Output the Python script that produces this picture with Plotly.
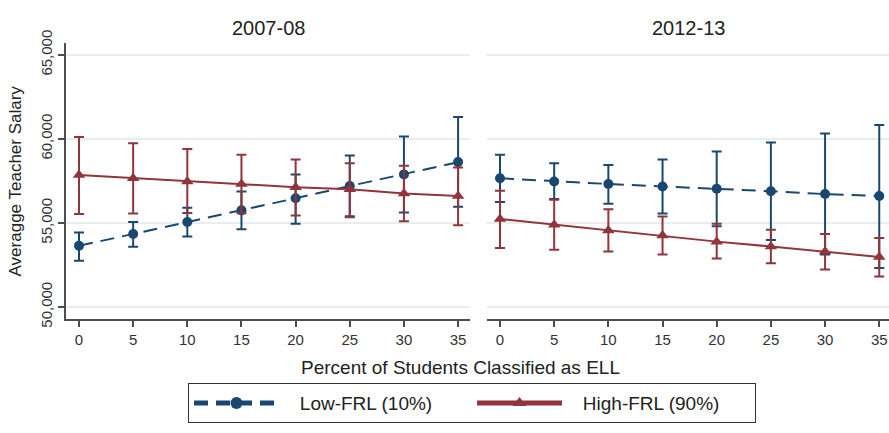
import plotly.graph_objects as go

# ELL share (percent of students)
ell_pct = [0, 5, 10, 15, 20, 25, 30, 35]

# 2007-08 predicted salary and 95% CI bounds
low_0708 = [53640, 54340, 55060, 55750, 56470, 57200, 57890, 58620]
low_0708_hi = [54430, 55060, 55900, 56870, 57890, 59010, 60150, 61300]
low_0708_lo = [52750, 53580, 54200, 54620, 54960, 55400, 55620, 55960]
high_0708 = [57850, 57660, 57470, 57320, 57130, 57000, 56750, 56600]
high_0708_hi = [60110, 59740, 59400, 59060, 58780, 58550, 58410, 58300]
high_0708_lo = [55530, 55570, 55600, 55580, 55440, 55340, 55100, 54870]

# 2012-13 predicted salary and 95% CI bounds
low_1213 = [57660, 57470, 57320, 57170, 57040, 56890, 56720, 56600]
low_1213_hi = [59060, 58550, 58450, 58780, 59250, 59790, 60320, 60830]
low_1213_lo = [56250, 56430, 56150, 55570, 54810, 53980, 53120, 52320]
high_1213 = [55240, 54900, 54550, 54250, 53890, 53600, 53300, 52980]
high_1213_hi = [56910, 56380, 55810, 55380, 54960, 54590, 54340, 54110]
high_1213_lo = [53510, 53410, 53300, 53130, 52890, 52610, 52230, 51820]

y_ticks = [50000, 55000, 60000, 65000]
y_tick_text = ["50,000", "55,000", "60,000", "65,000"]

series_names = ["Low-FRL (10%)", "High-FRL (90%)"]

BLUE = "#1a476f"
RED = "#90353b"
GRID = "#e6eef0"
AXIS = "#4d4d4d"
TEXT = "#222222"
FONT = "Liberation Sans, Arial, sans-serif"
PAD = "\u00a0" * 3  # gap between legend key and label

W, H = 889, 433


def err(center, hi, lo, color):
    return dict(
        type="data", symmetric=False,
        array=[h - c for h, c in zip(hi, center)],
        arrayminus=[c - l for c, l in zip(center, lo)],
        color=color, thickness=2, width=5,
    )


fig = go.Figure()

panels = [
    ("x", "y", low_0708, low_0708_hi, low_0708_lo, high_0708, high_0708_hi, high_0708_lo, True),
    ("x2", "y2", low_1213, low_1213_hi, low_1213_lo, high_1213, high_1213_hi, high_1213_lo, False),
]
for xa, ya, lo_c, lo_h, lo_l, hi_c, hi_h, hi_l, show in panels:
    fig.add_trace(go.Scatter(
        x=ell_pct, y=lo_c, xaxis=xa, yaxis=ya, mode="lines+markers",
        name=PAD + series_names[0], showlegend=show, legendrank=1,
        line=dict(color=BLUE, width=2, dash="14px,8px"),
        marker=dict(symbol="circle", size=10, color=BLUE),
        error_y=err(lo_c, lo_h, lo_l, BLUE),
    ))
    fig.add_trace(go.Scatter(
        x=ell_pct, y=hi_c, xaxis=xa, yaxis=ya, mode="lines+markers",
        name=PAD + series_names[1], showlegend=show, legendrank=2,
        line=dict(color=RED, width=2),
        marker=dict(symbol="triangle-up", size=11, color=RED),
        error_y=err(hi_c, hi_h, hi_l, RED),
    ))

y_dom = [1 - 322 / H, 1 - 32 / H]
y_rng = [49264, 65680]
x_style = dict(
    tickmode="array", tickvals=ell_pct, ticks="outside", ticklen=6,
    tickcolor=AXIS, tickwidth=1.5, showline=True, linecolor=AXIS, linewidth=2,
    showgrid=False, zeroline=False,
    tickfont=dict(family=FONT, size=15, color="#333333"),
)
fig.update_layout(
    width=W, height=H,
    margin=dict(l=0, r=0, t=0, b=0),
    paper_bgcolor="white", plot_bgcolor="white",
    font=dict(family=FONT),
    xaxis=dict(domain=[66 / W, 470 / W], range=[-1.2, 36.1], anchor="y", **x_style),
    xaxis2=dict(domain=[487 / W, 1.0], range=[-1.2, 35.9], anchor="y2", **x_style),
    yaxis=dict(
        domain=y_dom, range=y_rng, anchor="x",
        tickmode="array", tickvals=y_ticks, ticktext=y_tick_text, tickangle=-90,
        ticks="outside", ticklen=6, tickcolor=AXIS, tickwidth=1.5,
        showline=True, linecolor=AXIS, linewidth=2,
        showgrid=True, gridcolor=GRID, gridwidth=2, zeroline=False,
        tickfont=dict(family=FONT, size=15, color="#333333"),
    ),
    yaxis2=dict(
        domain=y_dom, range=y_rng, anchor="x2",
        tickmode="array", tickvals=y_ticks, showticklabels=False,
        ticks="", showline=False,
        showgrid=True, gridcolor=GRID, gridwidth=2, zeroline=False,
    ),
    legend=dict(
        orientation="h", x=188 / W, xanchor="left", y=1 - 389 / H, yanchor="top",
        bordercolor="#333333", borderwidth=1, bgcolor="white",
        font=dict(family=FONT, size=19, color=TEXT),
        itemwidth=85, itemsizing="constant", entrywidth=183,
        traceorder="normal",
    ),
    showlegend=True,
)

annots = [
    dict(text="2007-08", x=268 / W, y=1 - 16 / H, size=20, angle=0),
    dict(text="2012-13", x=688 / W, y=1 - 16 / H, size=20, angle=0),
    dict(text="Percent of Students Classified as ELL", x=460 / W, y=1 - 373 / H, size=19, angle=0),
    dict(text="Averagge Teacher Salary", x=15 / W, y=1 - 177 / H, size=17, angle=-90),
]
for a in annots:
    fig.add_annotation(
        text=a["text"], x=a["x"], y=a["y"], xref="paper", yref="paper",
        xanchor="center", yanchor="middle", showarrow=False, textangle=a["angle"],
        font=dict(family=FONT, size=a["size"], color=TEXT),
    )

fig.write_html("out.html")
